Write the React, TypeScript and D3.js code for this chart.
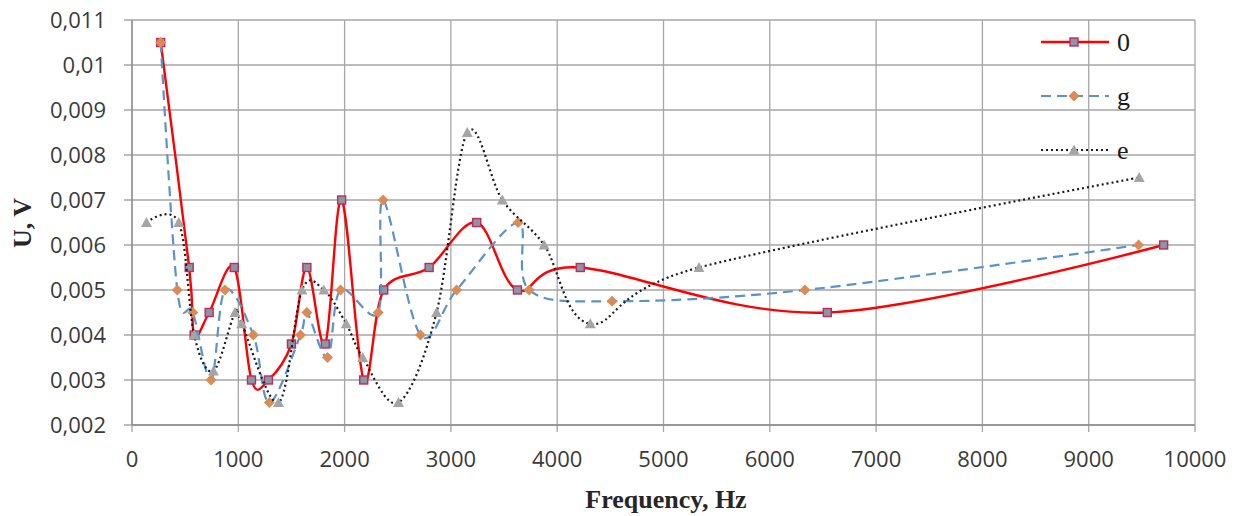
import React from "react";
import * as d3 from "d3";

// series "0"
const freq0 = [270, 538, 585, 726, 962, 1124, 1283, 1500, 1645, 1818, 1972, 2180, 2368, 2795, 3243, 3626, 4217, 6541, 9705];
const volt0 = [0.0105, 0.0055, 0.004, 0.0045, 0.0055, 0.003, 0.003, 0.0038, 0.0055, 0.0038, 0.007, 0.003, 0.005, 0.0055, 0.0065, 0.005, 0.0055, 0.0045, 0.006];

// series "g"
const freqG = [270, 426, 572, 744, 875, 1142, 1292, 1585, 1645, 1840, 1962, 2316, 2362, 2714, 3054, 3632, 3736, 4516, 6330, 9469];
const voltG = [0.0105, 0.005, 0.0045, 0.003, 0.005, 0.004, 0.0025, 0.004, 0.0045, 0.0035, 0.005, 0.0045, 0.007, 0.004, 0.005, 0.0065, 0.005, 0.00475, 0.005, 0.006];

// series "e"
const freqE = [136, 440, 585, 766, 969, 1032, 1378, 1600, 1805, 2015, 2170, 2507, 2865, 3154, 3484, 3877, 4311, 5334, 9475];
const voltE = [0.0065, 0.0065, 0.004, 0.0032, 0.0045, 0.00425, 0.0025, 0.005, 0.005, 0.00425, 0.0035, 0.0025, 0.0045, 0.0085, 0.007, 0.006, 0.00425, 0.0055, 0.0075];

const xTicks = [0, 1000, 2000, 3000, 4000, 5000, 6000, 7000, 8000, 9000, 10000];
const yTicks = [0.002, 0.003, 0.004, 0.005, 0.006, 0.007, 0.008, 0.009, 0.01, 0.011];

const W = 1243;
const H = 516;
const left = 132;
const right = 1195;
const top = 20;
const bottom = 425;

const x = d3.scaleLinear().domain([0, 10000]).range([left, right]);
const y = d3.scaleLinear().domain([0.002, 0.011]).range([bottom, top]);

const fmtY = (v: number) => String(+v.toFixed(3)).replace(".", ",");

type Pt = [number, number];
const zip = (fs: number[], vs: number[]): Pt[] => fs.map((f, i) => [f, vs[i]]);

const line = d3
  .line<Pt>()
  .x((d) => x(d[0]))
  .y((d) => y(d[1]))
  .curve(d3.curveCatmullRom.alpha(0));

const series = [
  { name: "0", data: zip(freq0, volt0), color: "#ff0000", width: 2.4, dash: "", marker: "square" },
  { name: "g", data: zip(freqG, voltG), color: "#5b93c7", width: 2.2, dash: "10,6", marker: "diamond" },
  { name: "e", data: zip(freqE, voltE), color: "#1a1a1a", width: 2.2, dash: "2,3", marker: "triangle" },
];

const serif = "'Liberation Serif', 'Times New Roman', serif";

function Marker({ kind, cx, cy }: { kind: string; cx: number; cy: number }) {
  if (kind === "square") {
    return <rect x={cx - 4} y={cy - 4} width={8} height={8} fill="#8a95a6" stroke="#c02a5c" strokeWidth={1.4} />;
  }
  if (kind === "diamond") {
    const r = 5.5;
    return <path d={`M${cx},${cy - r}L${cx + r},${cy}L${cx},${cy + r}L${cx - r},${cy}Z`} fill="#d98c55" />;
  }
  const s = 5.5;
  return <path d={`M${cx},${cy - s}L${cx + s},${cy + s * 0.8}L${cx - s},${cy + s * 0.8}Z`} fill="#a5a5a5" />;
}

export default function App() {
  const gridColor = "#a6a6a6";
  return (
    <svg width={W} height={H} style={{ position: "absolute", left: 0, top: 0, background: "#fff" }}>
      {/* grid */}
      {yTicks.map((t) => (
        <line key={"gy" + t} x1={left - 8} x2={right} y1={y(t)} y2={y(t)} stroke={gridColor} strokeWidth={1.3} />
      ))}
      {xTicks.map((t) => (
        <line key={"gx" + t} x1={x(t)} x2={x(t)} y1={top} y2={bottom + 7} stroke={gridColor} strokeWidth={1.3} />
      ))}
      <line x1={left} x2={left} y1={top} y2={bottom} stroke="#8c8c8c" strokeWidth={1.3} />
      <line x1={left} x2={right} y1={bottom} y2={bottom} stroke="#8c8c8c" strokeWidth={1.3} />

      {/* tick labels */}
      {yTicks.map((t) => (
        <text key={"ly" + t} x={106} y={y(t)} dy="0.35em" textAnchor="end" fontFamily="Open Sans" fontSize={22} fill="#3a3a3a">
          {fmtY(t)}
        </text>
      ))}
      {xTicks.map((t) => (
        <text key={"lx" + t} x={x(t)} y={459} dy="0.35em" textAnchor="middle" fontFamily="Open Sans" fontSize={22} fill="#3a3a3a">
          {t}
        </text>
      ))}

      {/* axis titles */}
      <text x={666} y={508} textAnchor="middle" fontFamily={serif} fontWeight="bold" fontSize={26} fill="#262626">
        Frequency, Hz
      </text>
      <text transform="translate(31,223) rotate(-90)" textAnchor="middle" fontFamily={serif} fontWeight="bold" fontSize={26} fill="#262626">
        U, V
      </text>

      {/* series */}
      {series.map((s) => (
        <g key={s.name}>
          <path d={line(s.data) || ""} fill="none" stroke={s.color} strokeWidth={s.width} strokeDasharray={s.dash || undefined} />
          {s.data.map((d, i) => (
            <Marker key={i} kind={s.marker} cx={x(d[0])} cy={y(d[1])} />
          ))}
        </g>
      ))}

      {/* legend */}
      {series.map((s, i) => {
        const ly = 42 + i * 54;
        return (
          <g key={"leg" + s.name}>
            <line x1={1041} x2={1109} y1={ly} y2={ly} stroke={s.color} strokeWidth={s.width} strokeDasharray={s.dash || undefined} />
            <Marker kind={s.marker} cx={1074} cy={ly} />
            <text x={1117} y={ly} dy="0.33em" fontFamily={serif} fontSize={26} fill="#1a1a1a">
              {s.name}
            </text>
          </g>
        );
      })}
    </svg>
  );
}
